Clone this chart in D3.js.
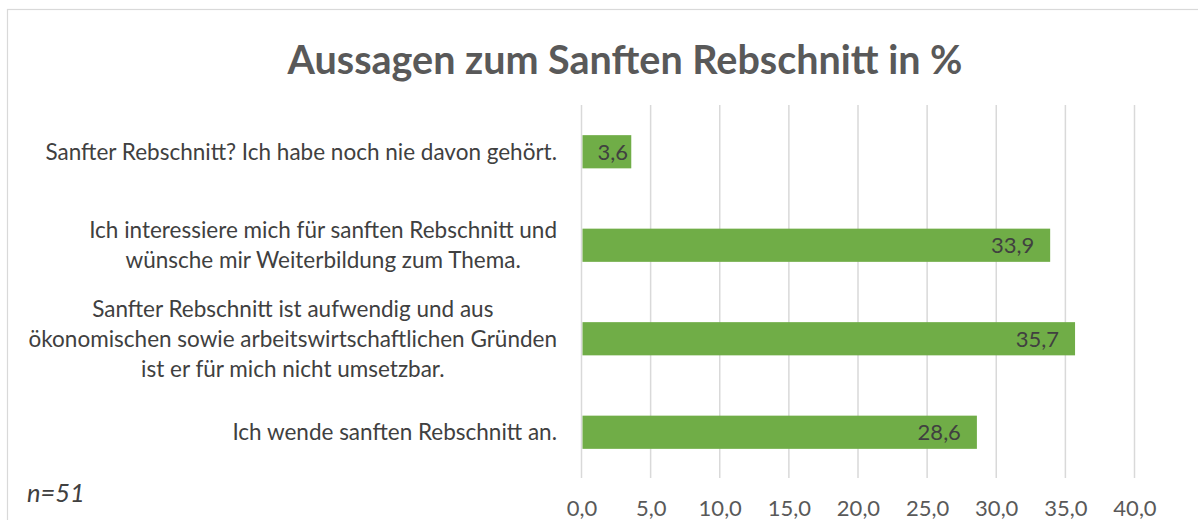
<!DOCTYPE html>
<html>
<head>
<meta charset="utf-8">
<script src="https://cdn.jsdelivr.net/npm/d3@7"></script>
<style>
  html, body { margin: 0; padding: 0; background: #ffffff; }
  svg { display: block; }
</style>
</head>
<body>
<svg id="chart" width="1198" height="520"></svg>
<script>
// ---- data ----
const title = "Aussagen zum Sanften Rebschnitt in %";
const categories = [
  ["Sanfter Rebschnitt? Ich habe noch nie davon gehört."],
  ["Ich interessiere mich für sanften Rebschnitt und", "wünsche mir Weiterbildung zum Thema."],
  ["Sanfter Rebschnitt ist aufwendig und aus", "ökonomischen sowie arbeitswirtschaftlichen Gründen", "ist er für mich nicht umsetzbar."],
  ["Ich wende sanften Rebschnitt an."]
];
const values = [3.6, 33.9, 35.7, 28.6];
const tickValues = [0, 5, 10, 15, 20, 25, 30, 35, 40];
const note = "n=51";

// ---- layout / style ----
const W = 1198, H = 520;
const FONT = "Lato, 'Open Sans', sans-serif";
const fmt = v => d3.format(".1f")(v).replace(".", ",");

const svg = d3.select("#chart");

// chart border
svg.append("rect")
  .attr("x", 7.5).attr("y", 9.5)
  .attr("width", W + 50).attr("height", H + 50)
  .attr("fill", "#ffffff")
  .attr("stroke", "#d9d9d9").attr("stroke-width", 1.2);

// title
svg.append("text")
  .attr("x", 625).attr("y", 74)
  .attr("text-anchor", "middle")
  .attr("font-family", FONT)
  .attr("font-weight", "bold")
  .attr("font-size", 39.5)
  .attr("fill", "#595959")
  .text(title);

const x = d3.scaleLinear().domain([0, 40]).range([581.5, 1134.5]);
const idx = d3.range(categories.length);
const y = d3.scaleBand().domain(idx).range([105, 479])
  .paddingInner(0.645).paddingOuter(0.3225);

// gridlines
svg.append("g").selectAll("line")
  .data(tickValues).join("line")
  .attr("x1", d => x(d)).attr("x2", d => x(d))
  .attr("y1", 105).attr("y2", 478)
  .attr("stroke", "#d9d9d9").attr("stroke-width", 1.5);

// x axis tick labels via d3.axisBottom
const axisG = svg.append("g")
  .attr("transform", "translate(0,490)")
  .call(d3.axisBottom(x).tickValues(tickValues).tickFormat(fmt).tickSize(0).tickPadding(0));
axisG.select(".domain").remove();
axisG.selectAll("text")
  .attr("font-family", FONT)
  .attr("font-size", 22)
  .attr("fill", "#595959")
  .attr("dy", "0.71em")
  .attr("y", 10);

// bars
svg.append("g").selectAll("rect")
  .data(values).join("rect")
  .attr("x", x(0) + 1)
  .attr("y", (d, i) => y(i))
  .attr("width", d => x(d) - x(0) - 1)
  .attr("height", y.bandwidth())
  .attr("fill", "#70ad47");

// data labels
const dl = svg.append("g").selectAll("text")
  .data(values).join("text")
  .attr("y", (d, i) => y(i) + y.bandwidth() / 2)
  .attr("dy", "0.36em")
  .attr("text-anchor", "end")
  .attr("font-family", FONT)
  .attr("font-size", 22)
  .attr("fill", "#404040")
  .text(fmt);
dl.each(function(d) {
  const w = this.getComputedTextLength();
  d3.select(this).attr("x", Math.max(x(d) - 16, x(0) + 16 + w));
});

// category labels (multi-line, centred lines, block right aligned)
const labelRight = 557;
const lineH = 30;
const catG = svg.append("g");
categories.forEach((lines, i) => {
  const t = catG.append("text")
    .attr("font-family", FONT)
    .attr("font-size", 22.5)
    .attr("fill", "#404040")
    .attr("text-anchor", "middle");
  const tsp = t.selectAll("tspan").data(lines).join("tspan").text(d => d);
  let maxW = 0;
  tsp.each(function() { maxW = Math.max(maxW, this.getComputedTextLength()); });
  const cx = labelRight - maxW / 2;
  const cy = y(i) + y.bandwidth() / 2;
  tsp.attr("x", cx)
     .attr("y", (d, k) => cy + (k - (lines.length - 1) / 2) * lineH)
     .attr("dy", "0.36em");
});

// note
svg.append("text")
  .attr("x", 27).attr("y", 502)
  .attr("font-family", FONT)
  .attr("font-style", "italic")
  .attr("font-size", 25.5)
  .attr("fill", "#404040")
  .text(note);
</script>
</body>
</html>
